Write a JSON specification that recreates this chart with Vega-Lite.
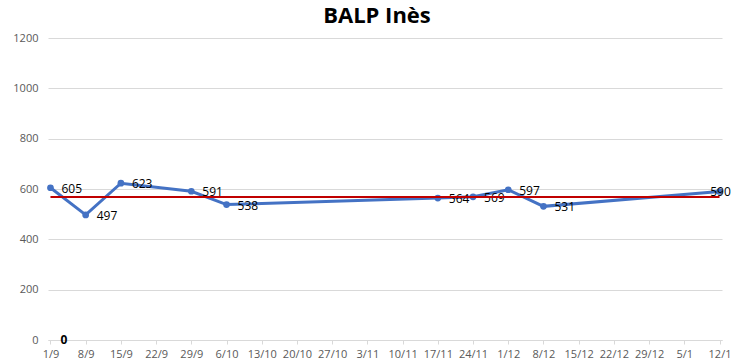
{
  "$schema": "https://vega.github.io/schema/vega-lite/v6.json",
  "width": 674,
  "height": 302,
  "autosize": "none",
  "padding": {"left": 48, "top": 38, "right": 12, "bottom": 24},
  "background": "white",
  "title": {
    "text": "BALP Inès",
    "font": "Open Sans",
    "fontSize": 22,
    "fontWeight": "bold",
    "color": "#000000",
    "anchor": "middle",
    "dx": -8,
    "offset": 4
  },
  "config": {
    "view": {"stroke": null},
    "axis": {"labelFont": "Open Sans", "labelColor": "#595959", "labelFontSize": 11}
  },
  "datasets": {
    "scores": [
      {"date": "1/9", "score": 605},
      {"date": "8/9", "score": 497},
      {"date": "15/9", "score": 623},
      {"date": "29/9", "score": 591},
      {"date": "6/10", "score": 538},
      {"date": "17/11", "score": 564},
      {"date": "24/11", "score": 569},
      {"date": "1/12", "score": 597},
      {"date": "8/12", "score": 531},
      {"date": "12/1", "score": 590}
    ],
    "avg": [{"start": "1/9", "end": "12/1", "value": 568}],
    "zero": [{"date": "1/9", "value": 0}]
  },
  "encoding": {
    "x": {
      "field": "date",
      "type": "ordinal",
      "sort": null,
      "scale": {
        "type": "point",
        "padding": 0.07,
        "domain": ["1/9","8/9","15/9","22/9","29/9","6/10","13/10","20/10","27/10","3/11","10/11","17/11","24/11","1/12","8/12","15/12","22/12","29/12","5/1","12/1"]
      },
      "axis": {
        "title": null,
        "labelAngle": 0,
        "domainColor": "#d9d9d9",
        "tickColor": "#d9d9d9",
        "tickSize": 4,
        "labelPadding": 4,
        "grid": false
      }
    },
    "y": {
      "type": "quantitative",
      "scale": {"domain": [0, 1200], "nice": false},
      "axis": {
        "title": null,
        "values": [0, 200, 400, 600, 800, 1000, 1200],
        "format": "d",
        "domain": false,
        "ticks": false,
        "labelPadding": 10,
        "gridColor": "#d9d9d9",
        "gridWidth": 1
      }
    }
  },
  "layer": [
    {
      "data": {"name": "scores"},
      "mark": {"type": "line", "color": "#4472C4", "strokeWidth": 3},
      "encoding": {"y": {"field": "score", "type": "quantitative"}}
    },
    {
      "data": {"name": "scores"},
      "mark": {"type": "point", "filled": true, "color": "#4472C4", "size": 45, "opacity": 1},
      "encoding": {"y": {"field": "score", "type": "quantitative"}}
    },
    {
      "data": {"name": "scores"},
      "transform": [{"filter": "datum.date !== '12/1'"}],
      "mark": {"type": "text", "align": "left", "baseline": "middle", "dx": 11, "dy": 1, "font": "Open Sans", "fontSize": 12, "color": "#000000"},
      "encoding": {"y": {"field": "score", "type": "quantitative"}, "text": {"field": "score", "type": "quantitative"}}
    },
    {
      "data": {"name": "scores"},
      "transform": [{"filter": "datum.date === '12/1'"}],
      "mark": {"type": "text", "align": "center", "baseline": "middle", "dx": 1, "font": "Open Sans", "fontSize": 12, "color": "#000000"},
      "encoding": {"y": {"field": "score", "type": "quantitative"}, "text": {"field": "score", "type": "quantitative"}}
    },
    {
      "data": {"name": "avg"},
      "mark": {"type": "rule", "color": "#C00000", "strokeWidth": 2},
      "encoding": {
        "x": {"field": "start", "type": "ordinal"},
        "x2": {"field": "end"},
        "y": {"field": "value", "type": "quantitative"}
      }
    },
    {
      "data": {"name": "zero"},
      "mark": {"type": "text", "align": "left", "baseline": "middle", "dx": 10, "font": "Open Sans", "fontSize": 12, "fontWeight": "bold", "color": "#000000"},
      "encoding": {"y": {"field": "value", "type": "quantitative"}, "text": {"field": "value", "type": "quantitative"}}
    }
  ]
}
